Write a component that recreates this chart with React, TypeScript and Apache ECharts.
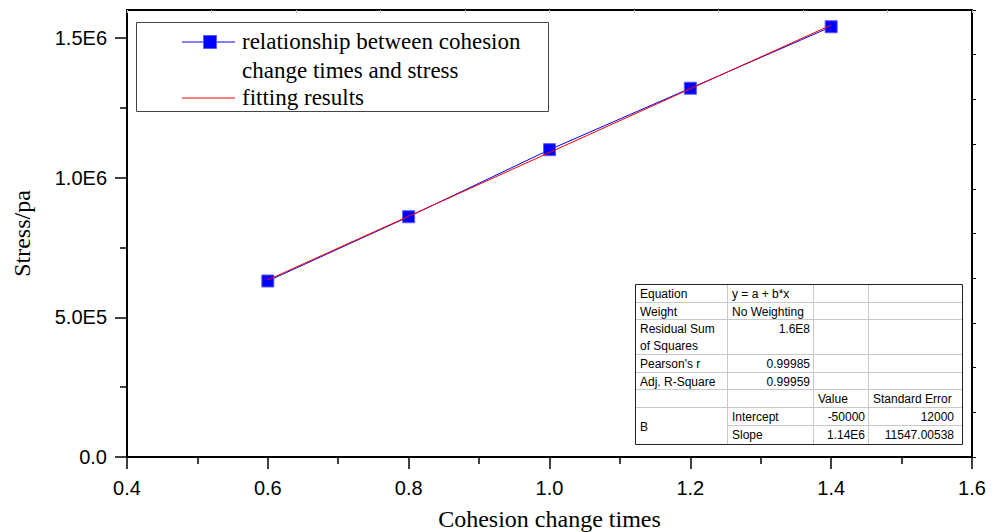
import React, { useEffect, useRef } from "react";
import * as echarts from "echarts";

// ---- data ----
const xValues = [0.6, 0.8, 1.0, 1.2, 1.4];
const stressValues = [630000, 860000, 1100000, 1320000, 1540000];
const fitX = [0.6, 1.4];
const fitY = [634000, 1546000];
const xTickLabels = ["0.4", "0.6", "0.8", "1.0", "1.2", "1.4", "1.6"];
const yMajorTicks = [0, 500000, 1000000, 1500000];
const yMinorTicks = [250000, 750000, 1250000];
const yTickLabels = ["0.0", "5.0E5", "1.0E6", "1.5E6"];
const legendLines = ["relationship between cohesion", "change times and stress", "fitting results"];
const xTitle = "Cohesion change times";
const yTitle = "Stress/pa";
const fitStats: string[][] = [
  ["Equation", "y = a + b*x", "", ""],
  ["Weight", "No Weighting", "", ""],
  ["Residual Sum\nof Squares", "1.6E8", "", ""],
  ["Pearson's r", "0.99985", "", ""],
  ["Adj. R-Square", "0.99959", "", ""],
  ["", "", "Value", "Standard Error"],
  ["B", "Intercept", "-50000", "12000"],
  ["", "Slope", "1.14E6", "11547.00538"],
];

export default function App() {
  const ref = useRef<HTMLDivElement>(null);
  useEffect(() => {
    if (!ref.current) return;
    const chart = echarts.init(ref.current, null, { renderer: "svg" });
    const sans = "'Liberation Sans', Arial, sans-serif";
    const serif = "'Liberation Serif', 'Times New Roman', serif";

    // table layout
    const colX = [635, 727, 813, 868, 962];
    const rowY = [284, 302, 319, 354, 372, 389, 407, 425, 444];
    const isNum = (s: string) => /^-?[\d.]+(E\d+)?$/.test(s);
    const tableEls: any[] = [];
    for (let r = 1; r < rowY.length - 1; r++) {
      const startX = r === 7 ? colX[1] : colX[0];
      tableEls.push({
        type: "line",
        shape: { x1: startX, y1: rowY[r] + 0.5, x2: colX[4], y2: rowY[r] + 0.5 },
        style: { stroke: "#c8c8c8", lineWidth: 1 },
      });
    }
    for (let c = 1; c < colX.length - 1; c++) {
      tableEls.push({
        type: "line",
        shape: { x1: colX[c] + 0.5, y1: rowY[0], x2: colX[c] + 0.5, y2: rowY[8] },
        style: { stroke: "#c8c8c8", lineWidth: 1 },
      });
    }
    tableEls.push({
      type: "rect",
      shape: { x: colX[0] + 0.5, y: rowY[0] + 0.5, width: colX[4] - colX[0], height: rowY[8] - rowY[0] },
      style: { fill: "none", stroke: "#222", lineWidth: 1 },
    });
    fitStats.forEach((row, r) => {
      row.forEach((txt, c) => {
        if (!txt) return;
        const right = isNum(txt);
        const padR = c === 3 ? 8 : 3;
        const x = right ? colX[c + 1] - padR : colX[c] + 5;
        let y = rowY[r] + 1;
        let va = "top";
        if (r === 6 && c === 0) {
          y = (rowY[6] + rowY[8]) / 2 + 1;
          va = "middle";
        }
        tableEls.push({
          type: "text",
          x,
          y,
          style: {
            text: txt,
            fontSize: 12,
            fontFamily: sans,
            fill: "#000",
            align: right ? "right" : "left",
            verticalAlign: va,
            lineHeight: 17,
          },
        });
      });
    });

    const legendEls: any[] = [
      {
        type: "rect",
        shape: { x: 136.5, y: 22.5, width: 412, height: 89 },
        style: { fill: "#fff", stroke: "#444", lineWidth: 1 },
      },
      { type: "line", shape: { x1: 182, y1: 42, x2: 235, y2: 42 }, style: { stroke: "#0000ff", lineWidth: 1 } },
      {
        type: "rect",
        shape: { x: 203.5, y: 35.5, width: 13, height: 13 },
        style: { fill: "#0000ff", stroke: "#5a5aff", lineWidth: 1 },
      },
      { type: "line", shape: { x1: 182, y1: 98, x2: 235, y2: 98 }, style: { stroke: "#ff0000", lineWidth: 1 } },
    ];
    const legendY = [41, 70, 97];
    legendLines.forEach((t, i) => {
      legendEls.push({
        type: "text",
        x: 242,
        y: legendY[i],
        style: { text: t, fontSize: 23, fontFamily: serif, fill: "#000", align: "left", verticalAlign: "middle" },
      });
    });

    const option: any = {
      animation: false,
      backgroundColor: "#fff",
      grid: { left: 127, right: 27, top: 10, bottom: 75, containLabel: false, outerBoundsMode: "none" },
      xAxis: [
        {
          type: "value",
          position: "bottom",
          min: 0.4,
          max: 1.6,
          interval: 0.2,
          axisLine: { show: true, onZero: false, lineStyle: { color: "#000", width: 2 } },
          axisTick: { show: true, length: 12, lineStyle: { color: "#000", width: 1.5 } },
          minorTick: { show: true, splitNumber: 2, length: 7, lineStyle: { color: "#000", width: 1.5 } },
          axisLabel: {
            margin: 21,
            fontSize: 20,
            fontFamily: sans,
            color: "#000",
            showMinLabel: true,
            showMaxLabel: true,
            formatter: (v: number) => xTickLabels[Math.round((v - 0.4) / 0.2)] ?? "",
          },
          splitLine: { show: false },
          minorSplitLine: { show: false },
          name: xTitle,
          nameLocation: "middle",
          nameGap: 50,
          nameTextStyle: { fontFamily: serif, fontSize: 24, color: "#000" },
        },
        {
          type: "value",
          position: "top",
          min: 0,
          max: 10,
          interval: 1,
          axisLine: { show: true, onZero: false, lineStyle: { color: "#000", width: 2 } },
          axisTick: { show: true, inside: true, length: 3, lineStyle: { color: "#c0c0c0", width: 1 } },
          axisLabel: { show: false },
          splitLine: { show: false },
        },
      ],
      yAxis: [
        {
          type: "value",
          position: "left",
          min: 0,
          max: 1600000,
          axisLine: { show: true, onZero: false, lineStyle: { color: "#000", width: 2 } },
          axisTick: { show: true, length: 12, customValues: yMajorTicks, lineStyle: { color: "#000", width: 1.5 } },
          axisLabel: {
            customValues: yMajorTicks,
            margin: 20,
            fontSize: 20,
            fontFamily: sans,
            color: "#000",
            formatter: (v: number) => yTickLabels[yMajorTicks.indexOf(v)] ?? "",
          },
          splitLine: { show: false },
          name: yTitle,
          nameLocation: "middle",
          nameGap: 93,
          nameRotate: 90,
          nameTextStyle: { fontFamily: serif, fontSize: 24, color: "#000" },
        },
        {
          type: "value",
          position: "left",
          min: 0,
          max: 1600000,
          axisLine: { show: false, onZero: false },
          axisTick: { show: true, length: 7, customValues: yMinorTicks, lineStyle: { color: "#000", width: 1.5 } },
          axisLabel: { show: false },
          splitLine: { show: false },
        },
        {
          type: "value",
          position: "right",
          min: 0,
          max: 10,
          interval: 1,
          axisLine: { show: true, onZero: false, lineStyle: { color: "#000", width: 2 } },
          axisTick: { show: true, length: 4, lineStyle: { color: "#000", width: 1 } },
          axisLabel: { show: false },
          splitLine: { show: false },
        },
      ],
      series: [
        {
          type: "line",
          xAxisIndex: 0,
          yAxisIndex: 0,
          data: xValues.map((x, i) => [x, stressValues[i]]),
          symbol: "rect",
          symbolSize: 12,
          showAllSymbol: true,
          itemStyle: { color: "#0000ff", borderColor: "#5a5aff", borderWidth: 1 },
          lineStyle: { color: "#0000ff", width: 1 },
          z: 2,
        },
        {
          type: "line",
          xAxisIndex: 0,
          yAxisIndex: 0,
          data: fitX.map((x, i) => [x, fitY[i]]),
          symbol: "none",
          lineStyle: { color: "#ff0000", width: 1 },
          z: 3,
        },
      ],
      graphic: [...legendEls, ...tableEls],
    };
    chart.setOption(option);
    return () => chart.dispose();
  }, []);
  return <div ref={ref} style={{ position: "absolute", left: 0, top: 0, width: 999, height: 532 }} />;
}
